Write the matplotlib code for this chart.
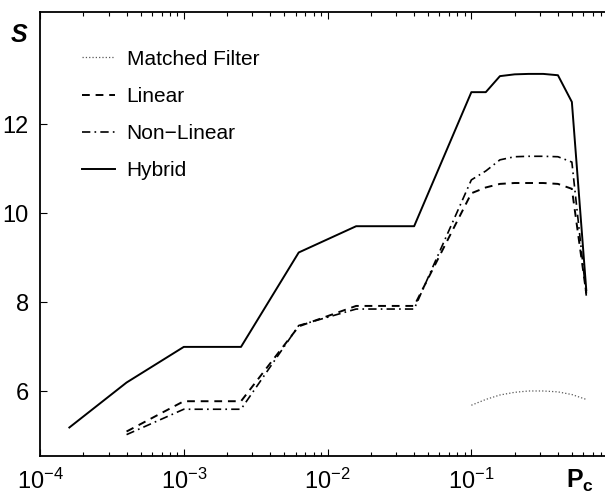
import numpy as np
import matplotlib as mpl
mpl.use('Agg')
import matplotlib.pyplot as plt

plt.rcParams['font.family'] = ['Liberation Sans', 'DejaVu Sans']
plt.rcParams['mathtext.fontset'] = 'custom'
plt.rcParams['mathtext.rm'] = 'Liberation Sans'
plt.rcParams['mathtext.it'] = 'Liberation Sans:italic'
plt.rcParams['mathtext.bf'] = 'Liberation Sans:bold'

## data
pc_low = [1.6e-4, 4e-4, 1e-3, 2.5e-3, 6.3e-3, 1.58e-2, 4e-2]
pc_high = [0.1, 0.126, 0.158, 0.2, 0.25, 0.316, 0.4, 0.5, 0.63]

hybrid = [5.19, 6.2, 7.0, 7.0, 9.12, 9.71, 9.71,
          12.72, 12.72, 13.08, 13.12, 13.13, 13.13, 13.1, 12.5, 8.27]
linear = [5.1, 5.78, 5.78, 7.46, 7.92, 7.92,
          10.45, 10.58, 10.66, 10.68, 10.68, 10.68, 10.66, 10.55, 8.2]
nonlinear = [5.03, 5.6, 5.6, 7.48, 7.85, 7.85,
             10.75, 10.95, 11.2, 11.27, 11.28, 11.28, 11.27, 11.15, 8.15]
matched = [5.69, 5.82, 5.92, 5.98, 6.01, 6.01, 5.99, 5.93, 5.82]

pc_all = pc_low + pc_high

fig = plt.figure(figsize=(6.05, 4.95), dpi=100)
ax = fig.add_axes([40/605, 39/495, 1 - 40/605, 444/495])

ax.plot(pc_high, matched, ':', color='0.35', lw=0.9, label='Matched Filter')
ax.plot(pc_all[1:], linear, '--', color='k', lw=1.4, dashes=(4, 3), label='Linear')
ax.plot(pc_all[1:], nonlinear, '-.', color='k', lw=1.2, dashes=(5, 2.5, 1, 2.5), label='Non\u2212Linear')
ax.plot(pc_all, hybrid, '-', color='k', lw=1.4, label='Hybrid')

ax.set_xscale('log')
ax.set_xlim(1e-4, 0.85)
ax.set_ylim(4.55, 14.52)
ax.set_yticks([6, 8, 10, 12])

ax.spines['right'].set_visible(False)
for s in ['left', 'bottom', 'top']:
    ax.spines[s].set_linewidth(1.3)

ax.tick_params(axis='both', which='both', direction='in', top=True, labelsize=17)
ax.tick_params(axis='both', which='major', length=5, width=0.8)
ax.tick_params(axis='x', which='minor', length=3, width=0.8)
ax.tick_params(axis='x', which='major', pad=9)
ax.tick_params(axis='y', which='major', pad=8)

ax.text(-0.023, 0.948, 'S', transform=ax.transAxes, fontsize=18,
        fontweight='bold', style='italic', ha='right', va='center')
ax.text(0.955, -0.055, r'$\mathbf{P_c}$', transform=ax.transAxes,
        fontsize=18, ha='center', va='center')

leg = ax.legend(loc='upper left', bbox_to_anchor=(0.075, 0.915), frameon=False,
                fontsize=15, handlelength=1.55, handletextpad=0.58,
                labelspacing=0.87, borderpad=0, borderaxespad=0)

fig.savefig('out.png', dpi=100)
